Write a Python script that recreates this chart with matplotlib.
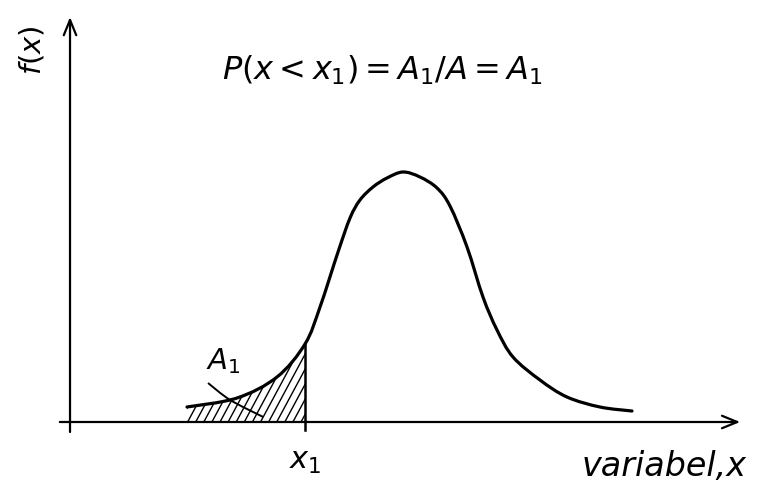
import matplotlib
matplotlib.use("Agg")
import matplotlib.pyplot as plt
import numpy as np
from matplotlib.path import Path
from matplotlib.patches import PathPatch

# density curve f(x), traced point by point (x in units, y in relative height)
curve_x = [1.950, 2.783, 3.450, 3.917, 4.167, 4.467, 4.667, 4.833, 5.050, 5.283,
           5.550, 5.833, 6.117, 6.333, 6.617, 6.883, 7.117, 7.383, 7.833, 8.283,
           8.833, 9.367]
curve_y = [0.060, 0.096, 0.180, 0.312, 0.460, 0.680, 0.816, 0.888, 0.940, 0.976,
           1.000, 0.980, 0.936, 0.864, 0.700, 0.500, 0.368, 0.260, 0.168, 0.100,
           0.060, 0.044]

x1 = 3.917                      # upper limit of the shaded area A1
a1_leader_x = [2.30, 2.67, 3.22]
a1_leader_y = [0.156, 0.088, 0.020]


def bezier_through(xs, ys):
    # cubic Bezier vertices passing through every given point (Catmull-Rom tangents)
    p = np.column_stack([xs, ys])
    p = np.vstack([p[0], p, p[-1]])
    verts = [p[1]]
    codes = [Path.MOVETO]
    for i in range(1, len(p) - 2):
        c1 = p[i] + (p[i + 1] - p[i - 1]) / 6
        c2 = p[i + 1] - (p[i + 2] - p[i]) / 6
        verts += [c1, c2, p[i + 1]]
        codes += [Path.CURVE4] * 3
    return verts, codes


fig = plt.figure(figsize=(7.67, 4.91), dpi=100)
ax = fig.add_axes([0, 0, 1, 1])
ax.set_xlim(-1.167, 11.617)
ax.set_ylim(-0.276, 1.688)
ax.axis("off")

# axes with open arrow heads
arrow = dict(arrowstyle="->,head_length=1.1,head_width=0.45", lw=1.6, color="black",
             shrinkA=0, shrinkB=0)
ax.annotate("", xy=(11.17, 0), xytext=(-0.17, 0), arrowprops=arrow)
ax.annotate("", xy=(0, 1.62), xytext=(0, -0.04), arrowprops=arrow)

# curve
verts, codes = bezier_through(curve_x, curve_y)
ax.add_patch(PathPatch(Path(verts, codes), facecolor="none", edgecolor="black",
                       lw=2.3, capstyle="round", joinstyle="round"))

# area A1 below x1: same curve segments closed along the x axis
n_tail = curve_x.index(x1)
tv = verts[:1 + 3 * n_tail] + [(x1, 0), (curve_x[0], 0), (curve_x[0], curve_y[0])]
tc = codes[:1 + 3 * n_tail] + [Path.LINETO, Path.LINETO, Path.CLOSEPOLY]
area = Path(tv, tc)

# steep hatch strokes clipped to the area
slope = 0.446
for x0 in np.arange(curve_x[0] - 0.8, x1 + 0.1, 0.135):
    ln, = ax.plot([x0, x0 + 0.8], [0, 0.8 * slope], color="black", lw=1.0)
    ln.set_clip_path(area, ax.transData)
ax.plot([x1, x1], [-0.03, curve_y[n_tail]], color="black", lw=1.8)

# leader from label A1 into the area
lv, lc = bezier_through(a1_leader_x, a1_leader_y)
ax.add_patch(PathPatch(Path(lv, lc), facecolor="none", edgecolor="black", lw=1.4))

hand = dict(color="black", style="italic", family="DejaVu Sans")
ax.text(5.2, 1.408, r"$P(x<x_1)=A_1/A=A_1$", fontsize=23, ha="center", va="center",
        color="black")
ax.text(-0.63, 1.488, r"$f(x)$", fontsize=21, rotation=90, ha="center", va="center",
        color="black")
ax.text(2.55, 0.244, r"$A_1$", fontsize=21, ha="center", va="center", color="black")
ax.text(x1, -0.16, r"$x_1$", fontsize=22, ha="center", va="center", color="black")
ax.text(9.9, -0.18, "variabel,x", fontsize=24, ha="center", va="center", **hand)

fig.savefig("out.png", dpi=100, facecolor="white")
